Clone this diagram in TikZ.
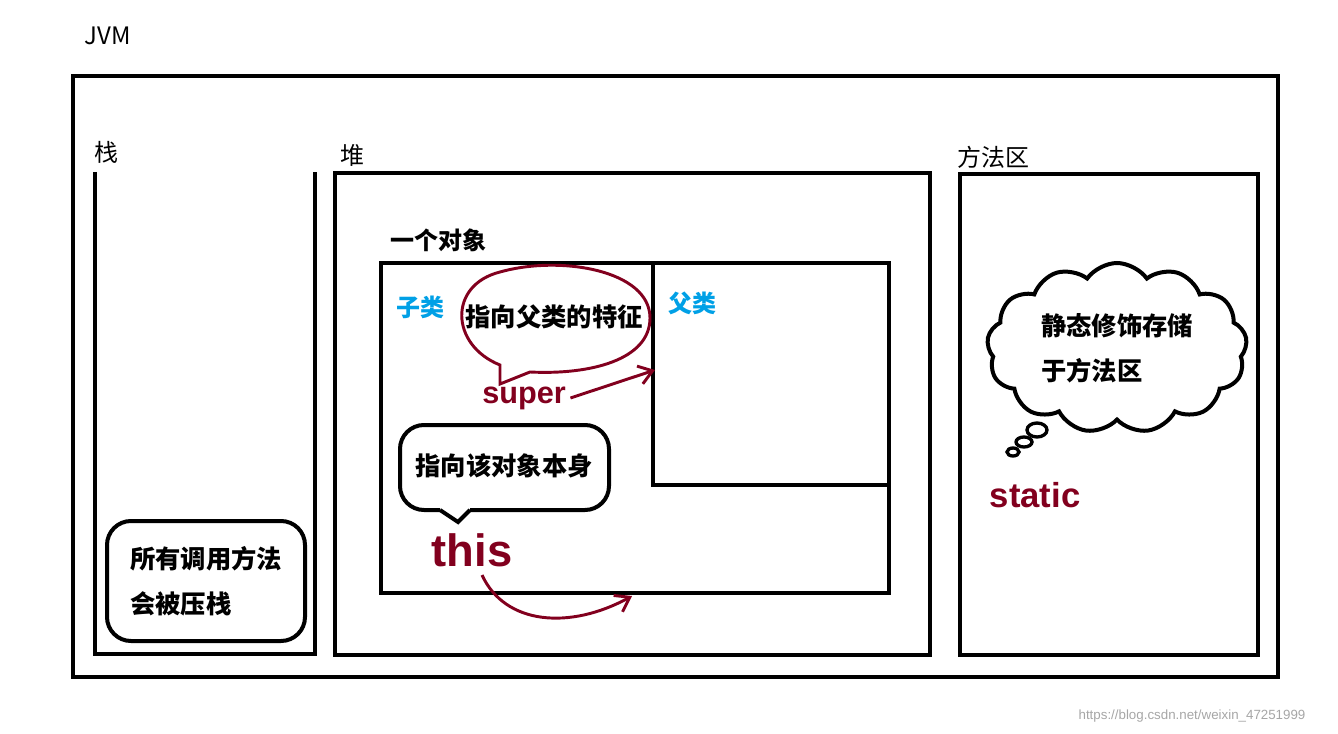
\documentclass[tikz,border=0pt]{standalone}
\usepackage{fontspec}
\setmainfont{Liberation Sans}
\newfontfamily\cjk{Noto Sans CJK SC}
\usetikzlibrary{shapes.symbols,arrows.meta}
\definecolor{dred}{RGB}{130,0,30}
\definecolor{sblue}{RGB}{0,160,230}
\tikzset{box/.style={draw,line width=3pt},
 lab/.style={font=\cjk\fontsize{18}{20}\selectfont,anchor=west},
 note/.style={font=\cjk\bfseries\fontsize{19}{34}\selectfont,align=left},
 red/.style={draw=dred,line width=2.2pt},
 arr/.style={red,-{Straight Barb[length=10pt,width=14pt]}}}
\begin{document}
\begin{tikzpicture}[x=0.75pt,y=-0.75pt]
\useasboundingbox (0,0) rectangle (1338,734);
\node[lab] (jvm) at (80,36) {JVM};
\draw[box] (73,76) rectangle (1278,677);
\node[lab] (zhan) at (90,152) {栈};
\draw[box] (95,172) -- (95,654) -- (315,654) -- (315,172);
\node[box,rounded corners=18pt,minimum width=198pt*0.75,minimum height=120pt*0.75,note] (stk) at (206,581) {所有调用方法\\会被压栈};
\node[lab] (dui) at (336,155) {堆};
\draw[box] (335,173) rectangle (930,655);
\node[font=\cjk\bfseries\fontsize{18}{20}\selectfont] (obj) at (438,240) {一个对象};
\draw[box] (381,263) rectangle (889,593);
\draw[box] (653,263) rectangle (889,485);
\node[font=\cjk\bfseries\fontsize{18}{20}\selectfont,text=sblue] (zi) at (420,307) {子类};
\node[font=\cjk\bfseries\fontsize{18}{20}\selectfont,text=sblue] (fu) at (692,303) {父类};
\draw[red] (500,365) .. controls (450,345) and (448,285) .. (500,272) .. controls (560,255) and (650,270) .. (650,318) .. controls (650,360) and (590,375) .. (530,372) -- (500,384) -- cycle;
\node[note] (e1) at (554,317) {指向父类的特征};
\node[font=\bfseries\fontsize{23}{24}\selectfont,text=dred] (super) at (524,398) {super};
\coordinate (p1) at (655,370);
\draw[arr] (super.east) -- (p1);
\draw[line width=3pt,rounded corners=18pt] (440,510) -- (400,510) -- (400,425) -- (609,425) -- (609,510) -- (470,510);
\draw[line width=3pt] (440,510) -- (458,522) -- (470,510);
\node[note] (e2) at (504,466) {指向该对象本身};
\node[font=\bfseries\fontsize{34}{36}\selectfont,text=dred] (this) at (472,550) {this};
\coordinate (p2) at (632,596);
\draw[arr] (482,575) .. controls (505,625) and (570,630) .. (p2);
\node[lab] (ff) at (953,157) {方法区};
\draw[box] (960,174) rectangle (1258,655);
\node[cloud,draw,line width=3pt,cloud puffs=13,cloud puff arc=110,aspect=1.9,minimum width=260*0.75pt,minimum height=170*0.75pt,inner sep=0pt] (cl) at (1117,348) {};
\node[note] (ct) at (1117,348) {静态修饰存储\\于方法区};
\draw[line width=2.5pt] (1037,430) ellipse (10 and 7);
\draw[line width=2.5pt] (1024,442) ellipse (8 and 5);
\draw[line width=2.5pt] (1013,452) ellipse (6 and 4);
\node[font=\bfseries\fontsize{26}{28}\selectfont,text=dred] (st) at (1035,495) {static};
\node[font=\fontsize{10}{12}\selectfont,text=black!35] (wm) at (1192,716) {https://blog.csdn.net/weixin\_47251999};
\end{tikzpicture}
\end{document}
